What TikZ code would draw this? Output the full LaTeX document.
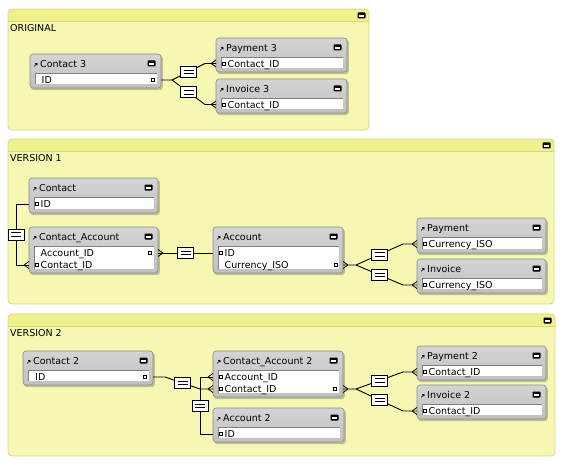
\documentclass[tikz,border=0pt]{standalone}
\usepackage{fontspec}
\setmainfont{DejaVu Sans}
\usetikzlibrary{calc,arrows.meta}
\definecolor{panelfill}{RGB}{245,247,178}
\definecolor{panelhead}{RGB}{238,241,140}
\definecolor{panelline}{RGB}{212,214,130}
\definecolor{tblgray}{RGB}{192,192,192}
\definecolor{tbltop}{RGB}{212,212,212}
\definecolor{tbledge}{RGB}{140,140,140}
\tikzset{
  conn/.style={draw=black, line width=0.9pt},
  tbl/.style={draw=tbledge, top color=tbltop, bottom color=tblgray, rounded corners=3pt, line width=0.6pt, inner sep=0pt, outer sep=0pt},
  ttext/.style={anchor=base west, inner sep=0pt, font=\fontsize{9.5}{11}\selectfont},
  ftext/.style={anchor=base west, inner sep=0pt, font=\fontsize{9.5}{11}\selectfont},
  plabel/.style={anchor=base west, inner sep=0pt, font=\fontsize{9.5}{11}\selectfont},
  eq/.style={draw=black, fill=white, line width=0.8pt, minimum width=16pt, minimum height=11pt, inner sep=0pt,
    path picture={\draw[line width=0.8pt]
      ([xshift=-5pt,yshift=1.7pt]path picture bounding box.center) -- ([xshift=5pt,yshift=1.7pt]path picture bounding box.center)
      ([xshift=-5pt,yshift=-1.7pt]path picture bounding box.center) -- ([xshift=5pt,yshift=-1.7pt]path picture bounding box.center);}},
}
\newcommand\miniicon[2]{%
  \fill[black, rounded corners=0.8pt] (#1-4,#2-3) rectangle (#1+4,#2+3);
  \fill[white] (#1-2.6,#2-0.4) rectangle (#1+2.6,#2+1.4);}
\newcommand\panelbox[6]{%
  \begin{scope}
    \clip[rounded corners=4pt] (#1,#2) rectangle (#3,#4);
    \fill[panelfill] (#1,#2) rectangle (#3,#4);
    \fill[panelhead] (#1,#2) rectangle (#3,#2+12);
    \draw[panelline, line width=0.6pt] (#1,#2+12) -- (#3,#2+12);
  \end{scope}
  \draw[panelline, rounded corners=4pt, line width=0.8pt] (#1,#2) rectangle (#3,#4);
  \node[plabel] (#6) at (#1+2,#2+22.7) {#5};
  \miniicon{#3-7.5}{#2+6.5}}
\newcommand\tablebox[6]{%
  \fill[black, opacity=0.22, rounded corners=3pt] (#2+1,#3+1.5) rectangle (#4+1.8,#5+2.2);
  \node[tbl, anchor=north west, minimum width={(#4-#2)*1pt}, minimum height={(#5-#3)*1pt}] (#1) at (#2,#3) {};
  \fill[white] (#2+5,#3+19) rectangle (#4-4,#5-4);
  \draw[gray, line width=0.5pt] (#2+5,#5-4) -- (#2+5,#3+19) -- (#4-4,#3+19);
  \node[ttext] (#1-t) at (#2+10,#3+13.5) {#6};
  \draw[-{Triangle[length=2pt,width=3pt]}, line width=0.6pt] (#2+4,#3+12.5) -- (#2+7.5,#3+9);
  \miniicon{#4-9.5}{#3+9.5}}
\newcommand\port[2]{\draw[black, fill=white, line width=0.5pt] (#1-1.6,#2-1.6) rectangle (#1+1.6,#2+1.6);}
\newcommand\crow[2]{\draw[conn, line width=0.8pt] ($(#2)+(#1*5,0)$) -- ($(#2)+(0,-3.5)$) ($(#2)+(#1*5,0)$) -- ($(#2)+(0,3.5)$);}
\begin{document}
\begin{tikzpicture}[x=1pt, y=-1pt]
\useasboundingbox (0,0) rectangle (564,465);
\fill[white] (0,0) rectangle (564,465);
% panels
\panelbox{8}{9}{369}{130}{ORIGINAL}{lorig}
\panelbox{8}{139}{554}{304}{VERSION 1}{lv1}
\panelbox{8}{314}{555}{456}{VERSION 2}{lv2}
% ---------- ORIGINAL tables
\tablebox{c3}{30}{54}{161}{88}{Contact 3}
\coordinate (r-c3f1) at (0,80);
\node[ftext] (c3f1) at (41.5,83.7) {ID}; \port{153}{80}
\tablebox{p3}{216}{38}{347}{72}{Payment 3}
\node[ftext] (p3f1) at (227.5,67.2) {Contact\_ID}; \port{223.5}{63.5}
\tablebox{i3}{216}{79}{347}{113}{Invoice 3}
\node[ftext] (i3f1) at (227.5,108.2) {Contact\_ID}; \port{223.5}{104.5}
% ---------- VERSION 1 tables
\tablebox{ct}{29}{178}{158}{213}{Contact}
\node[ftext] (ctf1) at (40.5,207.7) {ID}; \port{36.5}{204}
\tablebox{ca}{29}{227}{158}{273}{Contact\_Account}
\node[ftext] (caf1) at (40.5,256.7) {Account\_ID}; \port{150}{253}
\node[ftext] (caf2) at (40.5,268.7) {Contact\_ID}; \port{36.5}{265}
\tablebox{ac}{213}{227}{343}{273}{Account}
\node[ftext] (acf1) at (224.5,256.7) {ID}; \port{220.5}{253}
\node[ftext] (acf2) at (224.5,268.7) {Currency\_ISO}; \port{335.5}{265}
\tablebox{py}{417}{218}{546}{253}{Payment}
\node[ftext] (pyf1) at (428.5,247.7) {Currency\_ISO}; \port{424.5}{244}
\tablebox{iv}{417}{259}{546}{293}{Invoice}
\node[ftext] (ivf1) at (428.5,288.7) {Currency\_ISO}; \port{424.5}{285}
% ---------- VERSION 2 tables
\tablebox{c2}{23}{351}{153}{385}{Contact 2}
\node[ftext] (c2f1) at (35,380.7) {ID}; \port{145}{377}
\tablebox{ca2}{213}{351}{343}{397}{Contact\_Account 2}
\node[ftext] (ca2f1) at (224.5,380.7) {Account\_ID}; \port{220.5}{377}
\node[ftext] (ca2f2) at (224.5,392.7) {Contact\_ID}; \port{220.5}{389} \port{335}{389}
\tablebox{a2}{213}{408}{344}{442}{Account 2}
\node[ftext] (a2f1) at (224.5,437.7) {ID}; \port{220.5}{434}
\tablebox{p2}{417}{346}{546}{380}{Payment 2}
\node[ftext] (p2f1) at (428.5,375.7) {Contact\_ID}; \port{424.5}{372}
\tablebox{i2}{417}{385}{546}{419}{Invoice 2}
\node[ftext] (i2f1) at (428.5,414.7) {Contact\_ID}; \port{424.5}{411}
% ---------- connector end points (table edges at field rows)
\coordinate (c3id) at (c3.east |- 0,80);
\coordinate (p3id) at (p3.west |- 0,63.5);
\coordinate (i3id) at (i3.west |- 0,104.5);
\coordinate (o1) at (172,80); \coordinate (o2) at (205,63.5); \coordinate (o3) at (205,104.5);
\coordinate (ctid) at (ct.west |- 0,204);
\coordinate (cacid) at (ca.west |- 0,265);
\coordinate (caaid) at (ca.east |- 0,253);
\coordinate (acid) at (ac.west |- 0,253);
\coordinate (accur) at (ac.east |- 0,265);
\coordinate (pycur) at (py.west |- 0,244);
\coordinate (ivcur) at (iv.west |- 0,285);
\coordinate (v1a) at (16,204); \coordinate (v1b) at (16,265);
\coordinate (v1c) at (356,265); \coordinate (v1d) at (403,244); \coordinate (v1e) at (403,285);
\coordinate (c2id) at (c2.east |- 0,377);
\coordinate (ca2aid) at (ca2.west |- 0,377);
\coordinate (ca2cid) at (ca2.west |- 0,389);
\coordinate (ca2cidr) at (ca2.east |- 0,389);
\coordinate (a2id) at (a2.west |- 0,434);
\coordinate (p2cid) at (p2.west |- 0,372);
\coordinate (i2cid) at (i2.west |- 0,411);
\coordinate (w1) at (165,377); \coordinate (w2) at (200,389);
\coordinate (w3) at (200,434); \coordinate (w4) at (200,377);
\coordinate (w5) at (356,389); \coordinate (w6) at (403,372); \coordinate (w7) at (403,411);
% ---------- connectors ORIGINAL
\draw[conn] (c3id) -- (o1) -- (o2) node[eq, midway] (eqo1) {} -- (p3id);
\draw[conn] (o1) -- (o3) node[eq, midway] (eqo2) {} -- (i3id);
\crow{-1}{p3id} \crow{-1}{i3id}
% ---------- connectors VERSION 1
\draw[conn] (ctid) -- (v1a) -- (v1b) node[eq, midway] (eqv1a) {} -- (cacid);
\crow{-1}{cacid}
\draw[conn] (caaid) -- (acid) node[eq, midway] (eqv1b) {};
\crow{1}{caaid}
\draw[conn] (accur) -- (v1c) -- (v1d) node[eq, midway] (eqv1c) {} -- (pycur);
\draw[conn] (v1c) -- (v1e) node[eq, midway] (eqv1d) {} -- (ivcur);
\crow{1}{accur} \crow{-1}{pycur} \crow{-1}{ivcur}
% ---------- connectors VERSION 2
\draw[conn] (a2id) -- (w3) -- (w4) node[eq, pos=0.49] (eqv2b) {} -- (ca2aid);
\draw[conn] (c2id) -- (w1) -- (w2) node[eq, midway] (eqv2a) {} -- (ca2cid);
\crow{-1}{ca2aid} \crow{-1}{ca2cid}
\draw[conn] (ca2cidr) -- (w5) -- (w6) node[eq, midway] (eqv2c) {} -- (p2cid);
\draw[conn] (w5) -- (w7) node[eq, midway] (eqv2d) {} -- (i2cid);
\crow{1}{ca2cidr} \crow{-1}{p2cid} \crow{-1}{i2cid}
\end{tikzpicture}
\end{document}
